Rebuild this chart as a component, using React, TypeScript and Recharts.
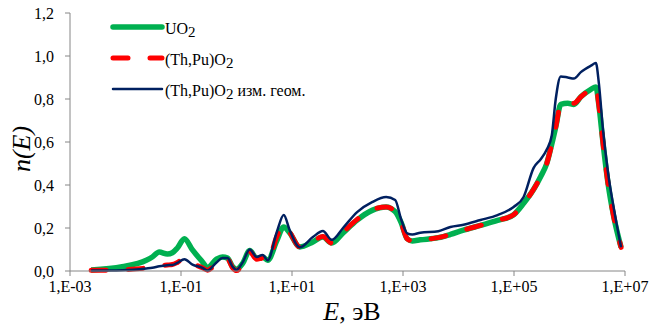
import { LineChart, Line, XAxis, YAxis, Label } from "recharts";

const SERIF = "'Liberation Serif', 'DejaVu Serif', 'Times New Roman', serif";

// energy, eV
const energy = [
  2.4e-3, 8.7e-3, 0.0237, 0.0304, 0.0406, 0.0568, 0.0698, 0.0861, 0.115, 0.161,
  0.244, 0.3, 0.436, 0.561, 0.69, 0.85, 1.0, 1.29, 1.73, 2.31,
  2.96, 3.65, 5.31, 7.1, 9.1, 13.8, 23.8, 36, 52, 83,
  149, 277, 497, 723, 927, 1190, 1470, 2050, 4330, 7140,
  12300, 24900, 50500, 98400, 149000, 226000, 303000, 389000, 479000, 565000,
  697000, 931000, 1.2e6, 1.6e6, 2.43e6, 2.99e6, 3.39e6, 4.0e6, 4.93e6, 6.3e6,
  8.5e6,
];

const uo2 = [
  0.005, 0.02, 0.05, 0.065, 0.088, 0.079, 0.085, 0.107, 0.15, 0.098,
  0.042, 0.015, 0.055, 0.065, 0.06, 0.02, 0.008, 0.035, 0.095, 0.06,
  0.065, 0.05, 0.14, 0.205, 0.177, 0.112, 0.135, 0.158, 0.13, 0.177,
  0.237, 0.282, 0.298, 0.276, 0.225, 0.15, 0.14, 0.145, 0.155, 0.17,
  0.19, 0.212, 0.235, 0.262, 0.315, 0.38, 0.44, 0.5, 0.59, 0.67,
  0.775, 0.78, 0.775, 0.81, 0.845, 0.856, 0.77, 0.6, 0.41, 0.25,
  0.11,
];

const thpu = [
  0.003, 0.006, 0.014, 0.018, 0.025, 0.028, 0.03, 0.04, 0.06, 0.035,
  0.015, 0.004, 0.035, 0.055, 0.055, 0.015, 0.002, 0.03, 0.09, 0.055,
  0.06, 0.045, 0.16, 0.215, 0.18, 0.112, 0.138, 0.16, 0.13, 0.18,
  0.24, 0.285, 0.298, 0.276, 0.225, 0.15, 0.14, 0.145, 0.155, 0.17,
  0.19, 0.212, 0.235, 0.262, 0.315, 0.38, 0.44, 0.5, 0.59, 0.67,
  0.775, 0.785, 0.78, 0.81, 0.845, 0.856, 0.77, 0.6, 0.41, 0.25,
  0.11,
];

const thpuGeom = [
  0.002, 0.004, 0.012, 0.015, 0.022, 0.027, 0.028, 0.038, 0.055, 0.03,
  0.015, 0.002, 0.04, 0.06, 0.06, 0.02, 0.005, 0.04, 0.1, 0.065,
  0.075, 0.05, 0.18, 0.26, 0.19, 0.11, 0.158, 0.186, 0.145, 0.2,
  0.274, 0.32, 0.344, 0.33, 0.24, 0.175, 0.17, 0.178, 0.185, 0.205,
  0.215, 0.237, 0.26, 0.298, 0.344, 0.48, 0.52, 0.565, 0.63, 0.8,
  0.905, 0.9, 0.895, 0.925, 0.955, 0.967, 0.87, 0.66, 0.46, 0.29,
  0.11,
];

const xTicks = [1e-3, 1e-1, 1e1, 1e3, 1e5, 1e7];
const yTicks = [0, 0.2, 0.4, 0.6, 0.8, 1.0, 1.2];

const data = energy.map((e, i) => ({
  e,
  uo2: uo2[i],
  thpu: thpu[i],
  geom: thpuGeom[i],
}));

const fmtX = (v: number) => {
  const p = Math.round(Math.log10(v));
  return `1,E${p < 0 ? "-" : "+"}${String(Math.abs(p)).padStart(2, "0")}`;
};
const fmtY = (v: number) => v.toFixed(1).replace(".", ",");

const AXIS = "#868686";

const legendRows = [
  { label: "UO", sub: "2", tail: "", color: "#00B050", width: 5.5, dash: undefined as string | undefined },
  { label: "(Th,Pu)O", sub: "2", tail: "", color: "#FF0000", width: 5, dash: "15 22" },
  { label: "(Th,Pu)O", sub: "2", tail: " изм. геом.", color: "#002060", width: 2.5, dash: undefined },
];

export default function App() {
  return (
    <div
      style={{
        position: "absolute",
        left: 0,
        top: 0,
        width: 651,
        height: 327,
        background: "#fff",
        fontFamily: SERIF,
      }}
    >
      <LineChart width={651} height={327} data={data} margin={{ top: 13, right: 26, bottom: 0, left: 0 }}>
        <XAxis
          dataKey="e"
          type="number"
          scale="log"
          domain={[1e-3, 1e7]}
          allowDataOverflow
          ticks={xTicks}
          tickFormatter={fmtX}
          height={56}
          tickSize={5}
          tickMargin={5}
          stroke={AXIS}
          tick={{ fill: "#000", fontSize: 16, style: { fontFamily: SERIF } }}
        >
          <Label
            content={() => (
              <text x={352} y={320} textAnchor="middle" style={{ fontFamily: SERIF }} fontSize={26} fill="#000">
                <tspan fontStyle="italic">E</tspan>
                <tspan>, эВ</tspan>
              </text>
            )}
          />
        </XAxis>
        <YAxis
          type="number"
          domain={[0, 1.2]}
          ticks={yTicks}
          tickFormatter={fmtY}
          width={70}
          tickSize={5}
          tickMargin={11}
          stroke={AXIS}
          tick={{ fill: "#000", fontSize: 16, style: { fontFamily: SERIF } }}
        >
          <Label
            content={() => (
              <text
                x={0}
                y={0}
                transform="translate(30,149) rotate(-90)"
                textAnchor="middle"
                style={{ fontFamily: SERIF }}
                fontSize={26}
                fontStyle="italic"
                fill="#000"
              >
                n(E)
              </text>
            )}
          />
        </YAxis>
        <Line
          dataKey="uo2"
          type="monotone"
          stroke="#00B050"
          strokeWidth={5.5}
          dot={false}
          isAnimationActive={false}
        />
        <Line
          dataKey="thpu"
          type="monotone"
          stroke="#FF0000"
          strokeWidth={5}
          strokeDasharray="15 22"
          strokeLinecap="round"
          dot={false}
          isAnimationActive={false}
        />
        <Line
          dataKey="geom"
          type="monotone"
          stroke="#002060"
          strokeWidth={2.5}
          dot={false}
          isAnimationActive={false}
        />
      </LineChart>
      <svg width={651} height={327} style={{ position: "absolute", left: 0, top: 0, pointerEvents: "none" }}>
        {legendRows.map((r, i) => {
          const y = 27 + i * 31;
          return (
            <g key={i}>
              <line
                x1={113}
                x2={162}
                y1={y}
                y2={y}
                stroke={r.color}
                strokeWidth={r.width}
                strokeDasharray={r.dash}
                strokeLinecap="round"
              />
              <text x={165} y={y + 7} style={{ fontFamily: SERIF }} fontSize={16} fill="#000">
                {r.label}
                <tspan fontSize={15} dy={3}>{r.sub}</tspan>
                {r.tail && <tspan dy={-3}>{r.tail}</tspan>}
              </text>
            </g>
          );
        })}
      </svg>
    </div>
  );
}
